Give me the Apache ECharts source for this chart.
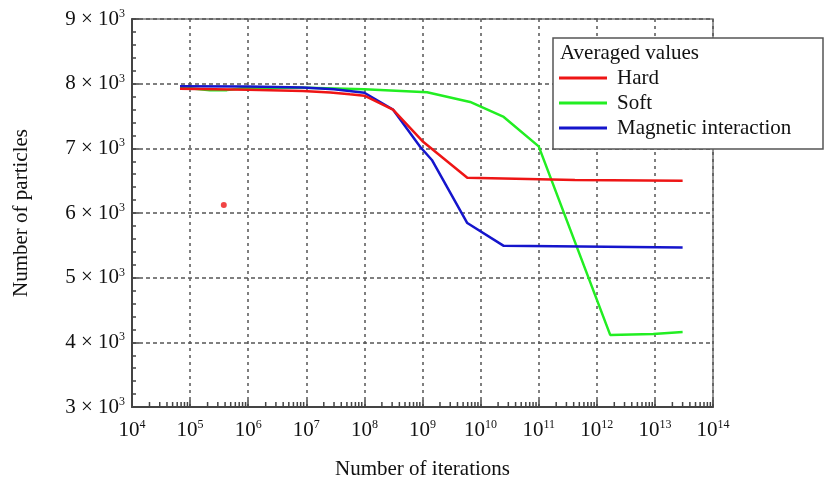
<!DOCTYPE html>
<html>
<head>
<meta charset="utf-8">
<script src="https://cdn.jsdelivr.net/npm/echarts@6/dist/echarts.min.js"></script>
<style>
  html, body { margin: 0; padding: 0; background: #fff; }
  #chart { width: 824px; height: 481px; }
</style>
</head>
<body>
<div id="chart"></div>
<script>
// Averaged particle counts versus number of iterations (log x axis)
const hardIter = [6.7e4, 1e6, 8.7e6, 2.6e7, 5.6e7, 1e8, 3.1e8, 1e9, 5.9e9, 4e10, 4.2e11, 3e13];
const hardCount = [7920, 7905, 7885, 7865, 7835, 7815, 7600, 7110, 6545, 6530, 6510, 6500];

const softIter = [6.7e4, 2.2e5, 4.3e5, 1e6, 1e7, 1e8, 1.2e9, 6.6e9, 2.5e10, 1e11, 1.7e12, 9.4e12, 3e13];
const softCount = [7945, 7900, 7900, 7940, 7938, 7915, 7868, 7717, 7485, 7030, 4115, 4130, 4160];

const magIter = [6.7e4, 1e6, 8.7e6, 3e7, 1e8, 3.1e8, 9.1e8, 1.45e9, 5.9e9, 2.5e10, 3e13];
const magCount = [7960, 7955, 7940, 7915, 7860, 7600, 7025, 6820, 5845, 5492, 5468];

const strayIter = [3.8e5];
const strayCount = [6125];

const xDecades = [4, 5, 6, 7, 8, 9, 10, 11, 12, 13, 14];
const yTicks = [3000, 4000, 5000, 6000, 7000, 8000, 9000];

const FONT = '"Liberation Serif", "DejaVu Serif", serif';

// log-style minor tick positions (2..9 per decade)
const minorTicks = [];
for (let d = xDecades[0]; d < xDecades[xDecades.length - 1]; d++) {
  for (let m = 2; m <= 9; m++) minorTicks.push([m * Math.pow(10, d), yTicks[0]]);
}

const zip = (xs, ys) => xs.map((x, i) => [x, ys[i]]);

const chart = echarts.init(document.getElementById('chart'), null, { renderer: 'canvas' });

const supRich = {
  a: { fontFamily: FONT, fontSize: 21, color: '#111', lineHeight: 22 },
  s: { fontFamily: FONT, fontSize: 12, color: '#111', lineHeight: 12, verticalAlign: 'top' }
};

chart.setOption({
  animation: false,
  backgroundColor: '#fff',
  grid: {
    left: 132, right: 111, top: 19, bottom: 74,
    containLabel: false,
    outerBoundsMode: 'none',
    show: true, borderColor: '#777', borderWidth: 1.5, backgroundColor: 'transparent'
  },
  xAxis: {
    type: 'log',
    logBase: 10,
    min: Math.pow(10, xDecades[0]),
    max: Math.pow(10, xDecades[xDecades.length - 1]),
    interval: 1,
    splitNumber: 10,
    name: 'Number of iterations',
    nameLocation: 'middle',
    nameGap: 52,
    nameTextStyle: { fontFamily: FONT, fontSize: 21, color: '#111' },
    axisLine: { lineStyle: { color: '#444', width: 2 } },
    axisTick: { inside: true, length: 7, lineStyle: { color: '#444', width: 1.5 } },
    axisLabel: {
      margin: 12,
      formatter: v => '{a|10}{s|' + Math.round(Math.log10(v)) + '}',
      rich: supRich
    },
    splitLine: { show: true, lineStyle: { color: '#555', width: 1.5, type: [3, 4] } }
  },
  yAxis: {
    type: 'value',
    min: yTicks[0],
    max: yTicks[yTicks.length - 1],
    interval: 1000,
    name: 'Number of particles',
    nameLocation: 'middle',
    nameGap: 100,
    nameRotate: 90,
    nameTextStyle: { fontFamily: FONT, fontSize: 21, color: '#111' },
    axisLine: { show: true, lineStyle: { color: '#444', width: 2 } },
    axisTick: { show: true, inside: true, length: 7, lineStyle: { color: '#444', width: 1.5 } },
    minorTick: { show: true, splitNumber: 5, length: 4, lineStyle: { color: '#444', width: 1.5 } },
    axisLabel: {
      margin: 7,
      formatter: v => '{a|' + (v / 1000) + ' × 10}{s|3}',
      rich: supRich
    },
    splitLine: { show: true, lineStyle: { color: '#555', width: 1.5, type: [4, 3] } }
  },
  legend: {
    data: ['Hard', 'Soft', 'Magnetic interaction'],
    orient: 'vertical',
    left: 559,
    top: 65.5,
    padding: 0,
    itemGap: 0,
    itemWidth: 48,
    itemHeight: 3,
    icon: 'rect',
    z: 10,
    textStyle: { fontFamily: FONT, fontSize: 21, color: '#111', lineHeight: 25, padding: [0, 0, 0, 5] }
  },
  graphic: [
    {
      type: 'rect', z: 5,
      shape: { x: 553, y: 38, width: 270, height: 111 },
      style: { fill: '#fff', stroke: '#555', lineWidth: 1.5 }
    },
    {
      type: 'text', z: 6, x: 560, y: 53,
      style: { text: 'Averaged values', font: '21px ' + FONT, fill: '#111', verticalAlign: 'middle' }
    }
  ],
  series: [
    {
      name: 'Hard', type: 'line', data: zip(hardIter, hardCount),
      showSymbol: false, color: '#ee1515', lineStyle: { width: 2.5 }, z: 3
    },
    {
      name: 'Soft', type: 'line', data: zip(softIter, softCount),
      showSymbol: false, color: '#22ee22', lineStyle: { width: 2.5 }, z: 2
    },
    {
      name: 'Magnetic interaction', type: 'line', data: zip(magIter, magCount),
      showSymbol: false, color: '#1515cc', lineStyle: { width: 2.5 }, z: 2
    },
    {
      name: 'Stray point', type: 'scatter', data: zip(strayIter, strayCount),
      symbolSize: 6, itemStyle: { color: '#ee1515' }
    },
    {
      name: 'minor ticks', type: 'custom', data: minorTicks, silent: true, clip: false,
      encode: { x: 0, y: 1 },
      renderItem: (params, api) => {
        const p = api.coord([api.value(0), api.value(1)]);
        return {
          type: 'line',
          shape: { x1: p[0], y1: p[1], x2: p[0], y2: p[1] - 5 },
          style: { stroke: '#444', lineWidth: 1.5 }
        };
      }
    }
  ]
});
</script>
</body>
</html>
